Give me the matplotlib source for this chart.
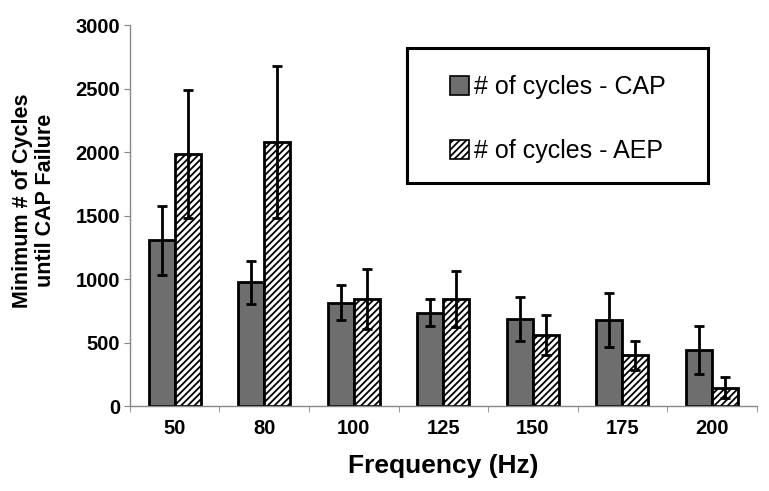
import numpy as np
import matplotlib
matplotlib.use('Agg')
import matplotlib.pyplot as plt
from matplotlib.patches import Rectangle

freqs = ['50', '80', '100', '125', '150', '175', '200']
cap = [1305, 975, 815, 735, 682, 675, 442]
cap_err = [272, 170, 140, 107, 173, 213, 191]
aep = [1982, 2080, 842, 842, 560, 400, 145]
aep_err = [505, 600, 237, 218, 160, 115, 82]

plt.rcParams['font.family'] = ['Liberation Sans', 'DejaVu Sans']
plt.rcParams['hatch.linewidth'] = 1.3

fig = plt.figure(figsize=(7.69, 4.91), dpi=100)
ax = fig.add_axes([0.169, 0.173, 0.815, 0.776])

x = np.arange(len(freqs))
w = 0.29
ax.bar(x - w / 2, cap, w, color='#6e6e6e', edgecolor='black', linewidth=2,
       yerr=cap_err, error_kw=dict(ecolor='black', elinewidth=2, capsize=3.5, capthick=2),
       label='# of cycles - CAP', zorder=2)
ax.bar(x + w / 2, aep, w, color='white', edgecolor='black', linewidth=2, hatch='/////',
       yerr=aep_err, error_kw=dict(ecolor='black', elinewidth=2, capsize=3.5, capthick=2),
       label='# of cycles - AEP', zorder=2)

ax.set_xlim(-0.5, len(freqs) - 0.5)
ax.set_ylim(0, 3000)
ax.set_yticks(range(0, 3001, 500))
ax.set_xticks(x)
ax.set_xticklabels(freqs, fontsize=14.5, fontweight='bold')
ax.set_xticks(np.arange(-0.5, len(freqs), 1.0), minor=True)
ax.tick_params(axis='x', which='major', length=0, pad=9)
ax.tick_params(axis='x', which='minor', length=4, color='#888888', direction='out')
ax.tick_params(axis='y', length=4, color='#888888', labelsize=14.5, pad=3)
for lab in ax.get_yticklabels():
    lab.set_fontweight('bold')

for s in ['top', 'right']:
    ax.spines[s].set_visible(False)
ax.spines['left'].set_color('#888888')
ax.spines['bottom'].set_color('#888888')
ax.spines['left'].set_linewidth(1)
ax.spines['bottom'].set_linewidth(1)

ax.set_xlabel('Frequency (Hz)', fontsize=19, fontweight='bold', labelpad=12)
ax.set_ylabel('Minimum # of Cycles\nuntil CAP Failure', fontsize=15.5, fontweight='bold',
              linespacing=1.15)
ax.yaxis.set_label_coords(-0.118, 0.54)

# legend box
fig.patches.append(Rectangle((0.529, 0.627), 0.392, 0.275, transform=fig.transFigure,
                             fill=False, edgecolor='black', linewidth=2.2))
leg = fig.legend(loc='center', bbox_to_anchor=(0.725, 0.757), frameon=False,
                 fontsize=18, handlelength=0.75, handleheight=0.75, handletextpad=0.2,
                 labelspacing=1.6)
for h in leg.legend_handles:
    h.set_linewidth(1.2)

fig.savefig('out.png', dpi=100)
